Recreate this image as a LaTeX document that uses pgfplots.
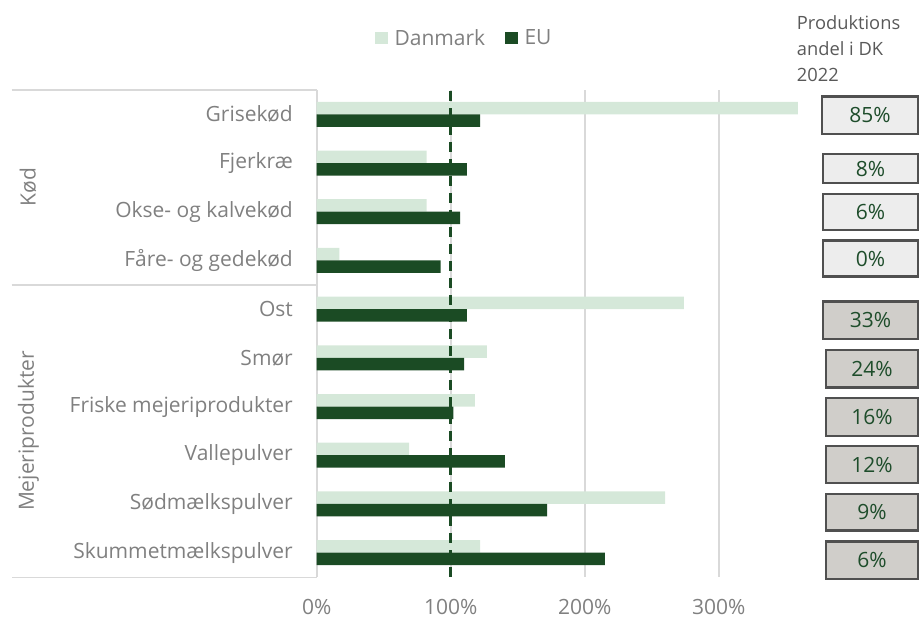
\documentclass[border=0pt]{standalone}
\usepackage{pgfplots}
\pgfplotsset{compat=1.18}
\usepackage{fontspec}
\setmainfont{Open Sans}
\definecolor{dk}{HTML}{D5E8D9}
\definecolor{eu}{HTML}{1B4B24}
\definecolor{lab}{HTML}{808080}
\definecolor{hdr}{HTML}{595959}
\definecolor{gridc}{HTML}{D9D9D9}
\definecolor{boxA}{HTML}{EDEDED}
\definecolor{boxB}{HTML}{D0CECA}
\definecolor{boxE}{HTML}{505050}
\definecolor{boxT}{HTML}{1E4D2B}
\newcommand{\bx}[5]{%
  \draw[boxE, line width=2.4pt, fill=#4] (#1,{618-#2}) rectangle (918,{618-#3});
  \node[text=boxT, font=\fontsize{21}{25}\selectfont, inner sep=0pt] at ({(#1+918)/2},{618-(#2+#3)/2}) {#5};}

\begin{document}
\begin{tikzpicture}[x=1pt,y=1pt]
\useasboundingbox (0,0) rectangle (919,618);
% category group lines
\draw[gridc, line width=1.5pt] (11.7,528) -- (316.7,528) -- (316.7,40.7) -- (11.7,40.7);
\draw[gridc, line width=1.5pt] (11.7,333) -- (316.7,333);
\begin{axis}[
  at={(316.7pt,41pt)}, anchor=south west,
  scale only axis, width=482.4pt, height=487pt,
  xbar, bar width=12.5pt,
  xmin=0, xmax=360, ymin=-0.5, ymax=9.5,
  axis line style={draw=none},
  xtick={0,100,200,300}, xticklabels={0\%,100\%,200\%,300\%},
  ytick={0,...,9},
  yticklabels={Skummetmælkspulver,Sødmælkspulver,Vallepulver,Friske mejeriprodukter,Smør,Ost,Fåre- og gedekød,Okse- og kalvekød,Fjerkræ,Grisekød},
  major tick length=0pt,
  xmajorgrids, grid style={gridc, line width=2pt},
  tick label style={font=\fontsize{21}{25}\selectfont, text=lab, inner sep=0pt},
  xticklabel style={anchor=base, yshift=-37.5pt},
  yticklabel style={anchor=east, xshift=-23.7pt},
  legend columns=2,
  legend style={at={(axis description cs:0.1209,1)}, anchor=west, yshift=52pt,
    draw=none, fill=none, inner sep=0pt, font=\fontsize{21}{25}\selectfont, text=lab,
    nodes={inner sep=0pt},
    /tikz/every odd column/.append style={column sep=6.6pt},
    /tikz/every even column/.append style={column sep=20pt}},
  clip=false,
]
\addplot[fill=dk, draw=none, bar shift=6.25pt,
  legend image code/.code={\fill[dk] (0pt,-6.3pt) rectangle (12.7pt,6.3pt);}]
  coordinates {(122,0) (260,1) (69,2) (118,3) (127,4) (274,5) (17,6) (82,7) (82,8) (359,9)};
\addlegendentry{Danmark}
\addplot[fill=eu, draw=none, bar shift=-6.25pt,
  legend image code/.code={\fill[eu] (0pt,-6.3pt) rectangle (12.7pt,6.3pt);}]
  coordinates {(215,0) (172,1) (140.5,2) (102,3) (110,4) (112,5) (92.5,6) (107,7) (112,8) (122,9)};
\addlegendentry{EU}
\addplot[forget plot, sharp plot, eu, line width=2.5pt, dash pattern=on 10pt off 7pt]
  coordinates {(100,-0.5) (100,9.5)};
\end{axis}
% group labels
\node[rotate=90, font=\fontsize{21}{25}\selectfont, text=lab] at (28,431) {Kød};
\node[rotate=90, font=\fontsize{21}{25}\selectfont, text=lab] at (28.5,187) {Mejeriprodukter};
% header
\begin{scope}[every node/.style={anchor=base west, inner sep=0pt, text=hdr, font=\fontsize{18.3}{22}\selectfont}]
\node at (796.7,588) {Produktions};
\node at (796.7,562) {andel i DK};
\node at (796.7,536.3) {2022};
\end{scope}
% boxes
\bx{822}{96.7}{134}{boxA}{85\%}
\bx{823}{154}{183.3}{boxA}{8\%}
\bx{823}{194}{230}{boxA}{6\%}
\bx{823}{240.7}{276.7}{boxA}{0\%}
\bx{823}{301.7}{339.3}{boxB}{33\%}
\bx{826}{350}{387.7}{boxB}{24\%}
\bx{826}{398.3}{436}{boxB}{16\%}
\bx{826}{446}{483.3}{boxB}{12\%}
\bx{826}{494}{530.7}{boxB}{9\%}
\bx{826}{541.7}{579.3}{boxB}{6\%}
\end{tikzpicture}
\end{document}
